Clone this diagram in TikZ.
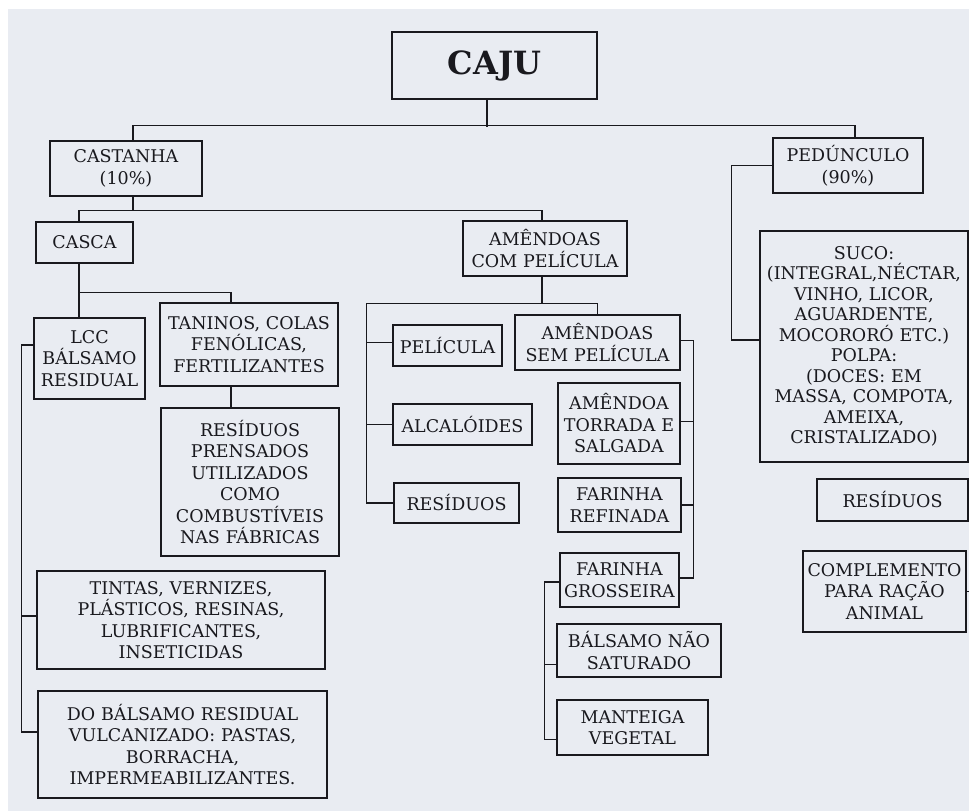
\documentclass[tikz,border=0pt]{standalone}
\usepackage{fontspec}
\setmainfont{DejaVu Serif}

\definecolor{paper}{RGB}{233,236,242}
\definecolor{ink}{RGB}{25,25,30}

\begin{document}
\begin{tikzpicture}[x=1pt, y=-1pt]
    \tikzset{
        prodbox/.style = {rectangle, draw=ink, line width=1.4pt, text=ink, align=center, inner xsep=1pt, inner ysep=0pt, font=\fontsize{17.5}{21.5}\selectfont},
        link/.style = {draw=ink, line width=1.4pt},
    }
    \useasboundingbox (0,0) rectangle (969,811);
    \fill [white] (0,0) rectangle (969,811);
    \fill [paper] (8,9) rectangle (969,811);

    \node (caju) [prodbox, text width=203pt, minimum height=67pt, font=\fontsize{32}{36}\selectfont\bfseries] at (494.5,65.5) {CAJU};
    \node (castanha) [prodbox, text width=150pt, minimum height=55pt] at (126,168.5) {CASTANHA\\(10\%)};
    \node (pedunculo) [prodbox, text width=148pt, minimum height=55pt] at (848,165.5) {PEDÚNCULO\\(90\%)};
    \node (casca) [prodbox, text width=95pt, minimum height=41pt] at (84.5,242.5) {CASCA};
    \node (com_pel) [prodbox, text width=162pt, minimum height=55pt] at (545,248.5) {AMÊNDOAS\\COM PELÍCULA};
    \node (lcc) [prodbox, text width=109pt, minimum height=81pt] at (89.5,358.5) {LCC\\BÁLSAMO\\RESIDUAL};
    \node (taninos) [prodbox, text width=176pt, minimum height=83pt] at (249,344.5) {TANINOS, COLAS\\FENÓLICAS,\\FERTILIZANTES};
    \node (prensados) [prodbox, text width=176pt, minimum height=148pt] at (250,482) {RESÍDUOS\\PRENSADOS\\UTILIZADOS\\COMO\\COMBUSTÍVEIS\\NAS FÁBRICAS};
    \node (tintas) [prodbox, text width=286pt, minimum height=98pt] at (181,620) {TINTAS, VERNIZES,\\PLÁSTICOS, RESINAS,\\LUBRIFICANTES,\\INSETICIDAS};
    \node (vulcan) [prodbox, text width=287pt, minimum height=107pt] at (182.5,744.5) {DO BÁLSAMO RESIDUAL\\VULCANIZADO: PASTAS,\\BORRACHA,\\IMPERMEABILIZANTES.};
    \node (pelicula) [prodbox, text width=107pt, minimum height=41pt] at (447.5,345.5) {PELÍCULA};
    \node (alcaloides) [prodbox, text width=137pt, minimum height=41pt] at (462.5,424.5) {ALCALÓIDES};
    \node (res_am) [prodbox, text width=123pt, minimum height=40pt] at (456.5,503) {RESÍDUOS};
    \node (sem_pel) [prodbox, text width=163pt, minimum height=55pt] at (597.5,342.5) {AMÊNDOAS\\SEM PELÍCULA};
    \node (torrada) [prodbox, text width=120pt, minimum height=81pt] at (619,423.5) {AMÊNDOA\\TORRADA E\\SALGADA};
    \node (refinada) [prodbox, text width=121pt, minimum height=54pt] at (619.5,505) {FARINHA\\REFINADA};
    \node (grosseira) [prodbox, text width=117pt, minimum height=54pt] at (619.5,580) {FARINHA\\GROSSEIRA};
    \node (balsamo_ns) [prodbox, text width=162pt, minimum height=53pt] at (639,650.5) {BÁLSAMO NÃO\\SATURADO};
    \node (manteiga) [prodbox, text width=149pt, minimum height=55pt] at (632.5,727.5) {MANTEIGA\\VEGETAL};
    \node (suco) [prodbox, text width=206pt, minimum height=231pt, font=\fontsize{17.5}{20.5}\selectfont] at (864,346.5) {SUCO:\\(INTEGRAL,NÉCTAR,\\VINHO, LICOR,\\AGUARDENTE,\\MOCORORÓ ETC.)\\POLPA:\\(DOCES: EM\\MASSA, COMPOTA,\\AMEIXA,\\CRISTALIZADO)};
    \node (res_ped) [prodbox, text width=149pt, minimum height=42pt] at (892.5,500) {RESÍDUOS};
    \node (complemento) [prodbox, text width=161pt, minimum height=81pt] at (884.5,591.5) {COMPLEMENTO\\PARA RAÇÃO\\ANIMAL};

    % caju
    \draw [link] ([xshift=-7.5pt]caju.south) -- ++(0,27);
    \draw [link] ([xshift=7pt]castanha.north) -- ++(0,-15) -| ([xshift=7pt]pedunculo.north);

    % castanha
    \draw [link] ([xshift=7pt]castanha.south) -- ++(0,14) coordinate (split1);
    \draw [link] ([xshift=-5.5pt]casca.north) |- (split1) -| ([xshift=-3pt]com_pel.north);

    % casca
    \draw [link] ([xshift=-5.5pt]casca.south) -- ++(0,55);
    \draw [link] ([xshift=-5.5pt]casca.south) ++(0,29) -| ([xshift=-18pt]taninos.north);
    \draw [link] ([xshift=-18pt]taninos.south) -- ++(0,22);

    % lcc
    \draw [link] ([yshift=13.5pt]lcc.west) -- ++(-12,0) |- ([yshift=12.5pt]vulcan.west);
    \draw [link] ([yshift=4pt]tintas.west) -- ++(-15,0);

    % amendoas com pelicula
    \draw [link] ([xshift=-3pt]com_pel.south) -- ++(0,27) coordinate (split2);
    \draw [link] (res_am.west) -- ++(-27,0) |- (split2) -| (sem_pel.north);
    \draw [link] ([yshift=3pt]pelicula.west) -- ++(-26,0);
    \draw [link] (alcaloides.west) -- ++(-26,0);

    % amendoas sem pelicula
    \draw [link] ([yshift=2pt]sem_pel.east) -- ++(13,0) |- ([yshift=2pt]grosseira.east);
    \draw [link] ([yshift=2pt]torrada.east) -- ++(13,0);
    \draw [link] (refinada.east) -- ++(12,0);

    % farinha grosseira
    \draw [link] ([yshift=-2pt]grosseira.west) -- ++(-15,0) |- ([yshift=-12pt]manteiga.west);
    \draw [link] ([yshift=-14pt]balsamo_ns.west) -- ++(-12,0);

    % pedunculo
    \draw [link] (pedunculo.west) -- ++(-41,0) |- ([yshift=6.5pt]suco.west);
    \draw [link] ([yshift=6.5pt]suco.east) -- ++(6,0);
    \draw [link] (res_ped.east) -- ++(6,0);
    \draw [link] (complemento.east) -- ++(6,0);
\end{tikzpicture}
\end{document}
